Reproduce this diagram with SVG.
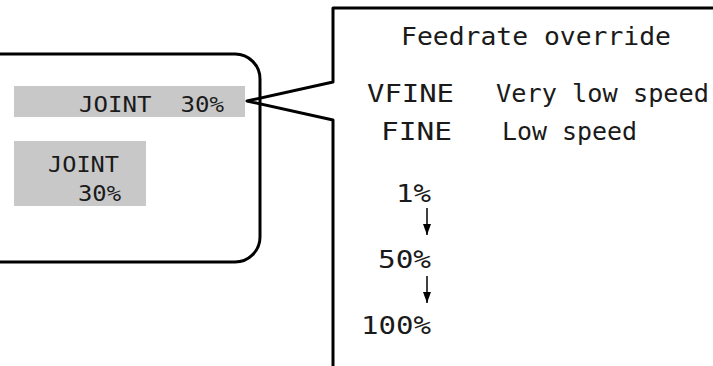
<svg xmlns="http://www.w3.org/2000/svg" width="713" height="366" viewBox="0 0 713 366">
<style>
.t{font-family:"DejaVu Sans Mono","Liberation Mono",monospace;fill:#1a1a1a;white-space:pre}
.s{font-size:22px}
.b{font-size:24px}
.frame{fill:none;stroke:#000;stroke-width:3;stroke-linejoin:round}
.grey{fill:#c8c8c8}
</style>
<defs>
<marker id="ah" markerWidth="11" markerHeight="8" refX="11" refY="4" orient="auto" markerUnits="userSpaceOnUse" viewBox="0 0 11 8">
<path d="M0,0 L11,4 L0,8 Z" fill="#000"/>
</marker>
</defs>
<rect width="713" height="366" fill="#fff"/>
<g id="screen">
<path class="frame" d="M0,54 H235 A25,25 0 0 1 260,79 V237 A25,25 0 0 1 235,262 H0"/>
</g>
<g id="joint-wide">
<rect class="grey" x="14" y="86" width="231" height="31"/>
<text class="t s" x="79" y="112" textLength="145" lengthAdjust="spacingAndGlyphs" xml:space="preserve">JOINT  30%</text>
</g>
<g id="joint-narrow">
<rect class="grey" x="14" y="141" width="132" height="65"/>
<text class="t s" x="48" y="172" textLength="71" lengthAdjust="spacingAndGlyphs">JOINT</text>
<text class="t s" x="78" y="201" textLength="43" lengthAdjust="spacingAndGlyphs">30%</text>
</g>
<g id="callout">
<path class="frame" stroke-width="2.5" d="M713,8 H333 V82 L247,101 L333,120 V366"/>
<text class="t b" x="401" y="45" textLength="270" lengthAdjust="spacingAndGlyphs">Feedrate override</text>
<text class="t b" x="367" y="102" textLength="87" lengthAdjust="spacingAndGlyphs">VFINE</text>
<text class="t b" x="496" y="102" textLength="213" lengthAdjust="spacingAndGlyphs">Very low speed</text>
<text class="t b" x="381" y="140" textLength="71" lengthAdjust="spacingAndGlyphs">FINE</text>
<text class="t b" x="502" y="140" textLength="135" lengthAdjust="spacingAndGlyphs">Low speed</text>
<text class="t b" x="396" y="202" textLength="35" lengthAdjust="spacingAndGlyphs">1%</text>
<text class="t b" x="378" y="268" textLength="53" lengthAdjust="spacingAndGlyphs">50%</text>
<text class="t b" x="361" y="334" textLength="70" lengthAdjust="spacingAndGlyphs">100%</text>
</g>
<g id="connectors" stroke="#000" stroke-width="1.5">
<line x1="427" y1="208" x2="427" y2="235" marker-end="url(#ah)"/>
<line x1="427" y1="276" x2="427" y2="303" marker-end="url(#ah)"/>
</g>
</svg>
